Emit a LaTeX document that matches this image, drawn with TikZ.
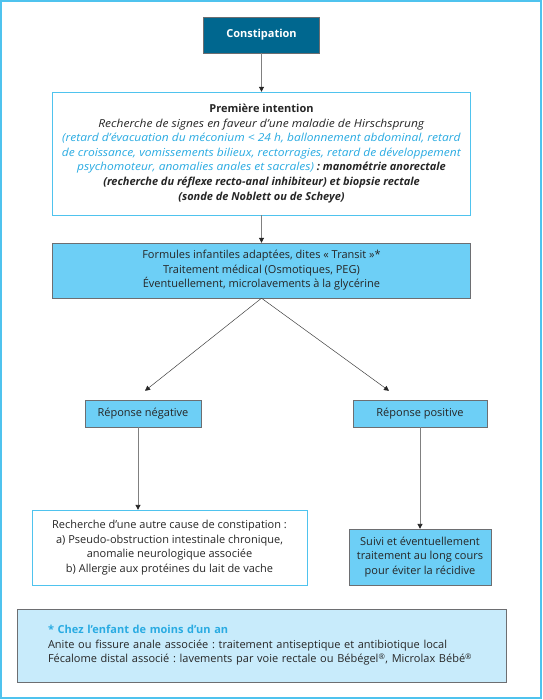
\documentclass[tikz,border=0pt]{standalone}
\usepackage{fontspec}
\setmainfont{Open Sans}[ItalicFeatures={FakeStretch=1.09}]
\usepackage{xcolor}
\usetikzlibrary{arrows.meta, positioning}
\frenchspacing

\definecolor{darkteal}{HTML}{00678F}
\definecolor{boxblue}{HTML}{6DCFF6}
\definecolor{paleblue}{HTML}{C8EBFB}
\definecolor{framecyan}{HTML}{4FC3EE}
\definecolor{textblue}{HTML}{29ABE2}
\definecolor{edgegray}{HTML}{6D6E71}

\begin{document}
\begin{tikzpicture}[
  x=1pt, y=-1pt,
  box/.style={rectangle, draw=edgegray, fill=boxblue, align=center, inner sep=0pt,
    font=\fontsize{11}{14.6}\selectfont, text=black!85},
  whitebox/.style={box, draw=framecyan, fill=white},
  arrow/.style={-{Triangle[length=5pt, width=5pt, black!85]}, draw=gray, line width=0.9pt},
  diag/.style={arrow, draw=black!75, line width=0.5pt}
]

% outer frame
\useasboundingbox (0,0) rectangle (542,700);
\draw[framecyan, line width=2pt] (1,1) rectangle (541,698);

\node[box, fill=darkteal, draw=edgegray, text=white, font=\fontsize{11}{12}\selectfont\bfseries,
  minimum width=116pt, minimum height=36pt] (constip) at (261.5,35) {Constipation};

\node[whitebox, minimum width=418pt, minimum height=123pt] (premiere) at (261.5,153.5) {%
  \textbf{Première intention}\\
  \textit{Recherche de signes en faveur d’une maladie de Hirschsprung}\\
  \textcolor{textblue}{\textit{(retard d’évacuation du méconium < 24 h, ballonnement abdominal, retard}}\\
  \textcolor{textblue}{\textit{de croissance, vomissements bilieux, rectorragies, retard de développement}}\\
  \textcolor{textblue}{\textit{psychomoteur, anomalies anales et sacrales)}} \textbf{\textit{: manométrie anorectale}}\\
  \textbf{\textit{(recherche du réflexe recto-anal inhibiteur) et biopsie rectale}}\\
  \textbf{\textit{(sonde de Noblett ou de Scheye)}}};

\node[box, minimum width=418pt, minimum height=55pt] (formules) at (261.5,270.5) {%
  Formules infantiles adaptées, dites « Transit »*\\
  Traitement médical (Osmotiques, PEG)\\
  Éventuellement, microlavements à la glycérine};

\node[box, minimum width=116pt, minimum height=27pt] (negative) at (143,413.5) {Réponse négative};
\node[box, minimum width=134pt, minimum height=27pt] (positive) at (420,413.5) {Réponse positive};

\node[whitebox, minimum width=275pt, minimum height=75pt] (recherche) at (169.5,547.5) {%
  Recherche d’une autre cause de constipation :\\
  a) Pseudo-obstruction intestinale chronique,\\
  anomalie neurologique associée\\
  b) Allergie aux protéines du lait de vache};

\node[box, minimum width=142pt, minimum height=56pt] (suivi) at (420,557) {%
  Suivi et éventuellement\\
  traitement au long cours\\
  pour éviter la récidive};

\node[box, fill=paleblue, align=left, text width=427pt, minimum height=73pt,
  inner xsep=31pt] (note) at (261.5,645.5) {%
  \textcolor{textblue}{\textbf{* Chez l’enfant de moins d’un an}}\\
  Anite ou fissure anale associée : traitement antiseptique et antibiotique local\\
  Fécalome distal associé : lavements par voie rectale ou Bébégel\textsuperscript{®}, Microlax Bébé\textsuperscript{®}};

\draw[arrow] (constip) -- (premiere);
\draw[arrow] (premiere) -- (formules);
\draw[diag] (formules.south) -- ([xshift=2pt, yshift=9pt]negative.north);
\draw[diag] (formules.south) -- ([xshift=-31pt, yshift=9pt]positive.north);
\draw[arrow] ([xshift=-5pt]negative.south) -- ([xshift=-5pt]negative.south |- recherche.north);
\draw[arrow] (positive) -- (suivi);

\end{tikzpicture}
\end{document}
